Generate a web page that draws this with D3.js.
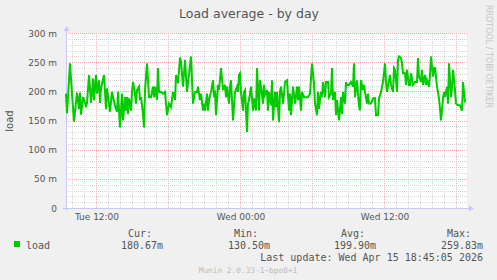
<!DOCTYPE html>
<html>
<head>
<meta charset="utf-8">
<script src="https://cdn.jsdelivr.net/npm/d3@7"></script>
<style>
  body { margin: 0; background: #f0f0f0; }
  svg { display: block; }
  .sans { font-family: 'DejaVu Sans', sans-serif; }
  .mono { font-family: 'DejaVu Sans Mono', monospace; }
</style>
</head>
<body>
<div id="chart"></div>
<script>
// load samples, 5 minute slots counted from Tue 09:30, values in milli-load
const sampleSlot = [
  0, 1, 4, 6, 8, 11, 13, 14, 15, 17, 20, 21, 23, 25, 27, 28, 30, 31, 33, 34, 35, 38, 40, 41, 44, 46, 49, 51, 52, 54, 56,
  57, 59, 60, 61, 62, 63, 65, 66, 67, 69, 70, 71, 73, 74, 75, 77, 78, 79, 81, 83, 85, 87, 88, 89, 91, 92, 93, 95, 97, 99,
  101, 103, 105, 107, 109, 110, 112, 114,
  115, 117, 119, 121, 125, 127, 129, 131, 132, 134, 135, 137, 138, 139, 141, 142, 143, 145, 147, 148, 149, 150, 152, 153,
  155, 157, 159, 160, 161, 163, 164, 165, 167, 169, 171, 172, 173,
  174, 175, 177, 178, 179, 181, 182, 183, 185, 187, 188, 190, 191, 193, 194, 195, 197, 198, 199, 201, 202, 203, 205, 206,
  207, 209, 210, 211, 213, 214, 215, 217, 218, 219, 221, 223, 224, 225, 227, 229, 231,
  232, 233, 235, 236, 238, 240, 242, 244, 246, 248, 249, 251, 252, 253, 255, 256, 257, 259, 260, 262, 263, 265, 266, 267,
  269, 270, 271, 273, 275, 276, 277, 279, 280, 281, 283, 285, 287, 288,
  289, 291, 292, 293, 294, 295, 297, 298, 299, 301, 302, 303, 305, 307, 309, 310, 312, 313, 315, 316, 317, 319, 320, 321,
  323, 324, 325, 327, 328, 329, 331, 332, 333, 335, 336, 337, 339, 340, 341, 343, 344, 345, 347,
  349, 351, 352, 353, 355, 356, 357, 359, 360, 361, 363, 364, 365, 367, 368, 369, 371, 373, 374, 375, 377, 378, 379, 381,
  382, 383, 385, 386, 387, 389, 390, 392, 394, 396, 397, 399
];
const loadMilli = [
  196, 162, 248, 196, 148, 198, 170, 198, 160, 190, 175, 180, 228, 180, 222, 185, 228, 196, 219, 180, 205, 228, 170, 205, 165, 199, 175, 165, 199, 138, 196,
  150, 190, 167, 190, 161, 188, 167, 199, 216, 196, 179, 202, 208, 185, 190, 161, 138, 202, 248, 190, 190, 208, 190, 208, 185, 240, 199, 199, 196, 199,
  159, 179, 173, 199, 185, 228, 214, 258,
  251, 208, 254, 199, 259.8, 179, 199, 199, 208, 185, 196, 167, 179, 167, 196, 167, 185, 199, 219, 190, 202, 159, 211, 202,
  240, 202, 211, 190, 208, 179, 208, 219, 150, 199, 208, 199, 228,
  231, 199, 167, 199, 202, 130.5, 179, 185, 208, 167, 188, 167, 240, 167, 219, 208, 179, 211, 194, 202, 167, 199, 176, 219,
  150, 199, 173, 199, 147, 199, 208, 179, 196, 216, 219, 167, 196, 159, 208, 179, 208,
  185, 208, 167, 199, 190, 190, 190, 196, 248, 214, 179, 159, 199, 170, 199, 190, 216, 190, 216, 216, 190, 196, 240, 185,
  199, 159, 185, 150, 190, 161, 199, 179, 216, 211, 211, 216, 208, 248,
  190, 219, 196, 176, 167, 219, 202, 211, 199, 179, 196, 179, 179, 188, 188, 159, 159, 188, 199, 208, 216, 248, 216, 199,
  219, 228, 211, 199, 240, 237, 199, 254, 259.8, 257, 248, 231, 231, 211, 237, 211, 211, 231, 211,
  216, 216, 257, 225, 216, 237, 211, 228, 211, 219, 208, 228, 259.8, 225, 240, 240, 208, 188, 170, 150, 188, 199, 190, 208,
  179, 248, 190, 208, 237, 202, 179, 176, 176, 167, 216, 180.67
];
const yTicks = [0, 50, 100, 150, 200, 250, 300];
const statHeads = ['Cur:', 'Min:', 'Avg:', 'Max:'];
const statValues = ['180.67m', '130.50m', '199.90m', '259.83m'];
const seriesName = 'load';
const lastUpdate = 'Last update: Wed Apr 15 18:45:05 2026';

const width = 497, height = 280;
const margin = { top: 33, left: 66, right: 31, bottom: 72 };
const start = new Date(2026, 3, 14, 9, 30);
const end = d3.timeMinute.offset(start, 400 * 5);

const svg = d3.select('#chart').append('svg')
  .attr('width', width)
  .attr('height', height);

svg.append('rect').attr('width', width).attr('height', height).attr('fill', '#f0f0f0');

const x = d3.scaleTime().domain([start, end]).range([margin.left, width - margin.right]);
const y = d3.scaleLinear().domain([0, 300]).range([height - margin.bottom, margin.top]);
const x0 = x.range()[0], x1 = x.range()[1] + 1;
const y0 = y.range()[0], y1 = y.range()[1];

// canvas
svg.append('rect')
  .attr('x', x0).attr('y', y1)
  .attr('width', x1 - x0).attr('height', y0 - y1)
  .attr('fill', '#ffffff');

// minor grid
const grid = svg.append('g').attr('shape-rendering', 'crispEdges');
grid.selectAll('.hmin')
  .data(d3.range(0, 301, 10).filter(v => v % 50 !== 0))
  .enter().append('line')
  .attr('x1', x0).attr('x2', x1)
  .attr('y1', d => Math.round(y(d)) + 0.5).attr('y2', d => Math.round(y(d)) + 0.5)
  .attr('stroke', '#d6d6d6').attr('stroke-dasharray', '1,1');
grid.selectAll('.vmin')
  .data(d3.timeHour.range(start, end).filter(d => d.getHours() % 6 !== 0))
  .enter().append('line')
  .attr('x1', d => Math.round(x(d)) + 0.5).attr('x2', d => Math.round(x(d)) + 0.5)
  .attr('y1', y1).attr('y2', y0)
  .attr('stroke', '#d6d6d6').attr('stroke-dasharray', '1,1');

// major grid
grid.selectAll('.hmaj')
  .data(yTicks.filter(v => v > 0))
  .enter().append('line')
  .attr('x1', x0).attr('x2', x1)
  .attr('y1', d => Math.round(y(d)) + 0.5).attr('y2', d => Math.round(y(d)) + 0.5)
  .attr('stroke', '#f4acac').attr('stroke-dasharray', '1,1');
grid.selectAll('.vmaj')
  .data(d3.timeHour.every(6).range(start, end))
  .enter().append('line')
  .attr('x1', d => Math.round(x(d)) + 0.5).attr('x2', d => Math.round(x(d)) + 0.5)
  .attr('y1', y1).attr('y2', y0)
  .attr('stroke', '#f4acac').attr('stroke-dasharray', '1,1');

// axes lines with arrows
const axisColor = '#c8c8f4';
svg.append('line')
  .attr('x1', x0 - 3).attr('x2', x1 + 3)
  .attr('y1', y0 + 0.5).attr('y2', y0 + 0.5)
  .attr('stroke', axisColor);
svg.append('path')
  .attr('d', `M${x1 + 7},${y0 + 0.5} L${x1 + 2},${y0 - 2.5} L${x1 + 2},${y0 + 3.5} Z`)
  .attr('fill', axisColor);
svg.append('line')
  .attr('x1', x0 + 0.5).attr('x2', x0 + 0.5)
  .attr('y1', y0 + 3).attr('y2', y1 - 3)
  .attr('stroke', axisColor);
svg.append('path')
  .attr('d', `M${x0 + 0.5},${y1 - 7} L${x0 - 2.5},${y1 - 2} L${x0 + 3.5},${y1 - 2} Z`)
  .attr('fill', axisColor);

// y tick labels
svg.append('g').attr('class', 'sans')
  .selectAll('text').data(yTicks).enter().append('text')
  .attr('x', 57)
  .attr('y', d => y(d) + 3.5)
  .attr('text-anchor', 'end')
  .attr('font-size', 9)
  .attr('fill', '#555')
  .text(d => d === 0 ? '0' : d + ' m');

// x tick labels
const fmt = d3.timeFormat('%a %H:%M');
svg.append('g').attr('class', 'sans')
  .selectAll('text').data(d3.timeHour.every(12).range(start, end)).enter().append('text')
  .attr('x', d => x(d) + 1)
  .attr('y', 220)
  .attr('text-anchor', 'middle')
  .attr('font-size', 9)
  .attr('fill', '#555')
  .text(d => fmt(d));

// load line
const line = d3.line()
  .x((d, i) => x(d3.timeMinute.offset(start, sampleSlot[i] * 5)))
  .y(d => y(d));
svg.append('path')
  .datum(loadMilli)
  .attr('d', line)
  .attr('fill', 'none')
  .attr('stroke', '#00cc00')
  .attr('stroke-width', 2)
  .attr('stroke-linejoin', 'miter');

// title, y label, watermark
svg.append('text').attr('class', 'sans')
  .attr('x', 249).attr('y', 18)
  .attr('text-anchor', 'middle')
  .attr('font-size', 12.5)
  .attr('fill', '#555')
  .text('Load average - by day');
svg.append('text').attr('class', 'sans')
  .attr('transform', 'translate(13,121) rotate(-90)')
  .attr('text-anchor', 'middle')
  .attr('font-size', 10)
  .attr('fill', '#555')
  .text('load');
svg.append('text').attr('class', 'sans')
  .attr('transform', 'translate(486,5) rotate(90)')
  .attr('font-size', 8)
  .attr('fill', '#c4c4c4')
  .text('RRDTOOL / TOBI OETIKER');

// legend
const legend = svg.append('g').attr('class', 'mono').attr('font-size', 10).attr('fill', '#555');
legend.append('rect').attr('x', 14).attr('y', 241).attr('width', 6).attr('height', 6).attr('fill', '#00cc00');
legend.append('text').attr('x', 26).attr('y', 249).text(seriesName);
const headX = [128, 234, 341, 447];
const valX = [121, 228, 334, 441];
legend.selectAll('.head').data(statHeads).enter().append('text')
  .attr('x', (d, i) => headX[i]).attr('y', 237).text(d => d);
legend.selectAll('.val').data(statValues).enter().append('text')
  .attr('x', (d, i) => valX[i]).attr('y', 249).text(d => d);
legend.append('text').attr('x', 483).attr('y', 261).attr('text-anchor', 'end').text(lastUpdate);
svg.append('text').attr('class', 'mono')
  .attr('x', 248).attr('y', 273)
  .attr('text-anchor', 'middle')
  .attr('font-size', 7.8)
  .attr('fill', '#bbb')
  .text('Munin 2.0.33-1~bpo8+1');
</script>
</body>
</html>
